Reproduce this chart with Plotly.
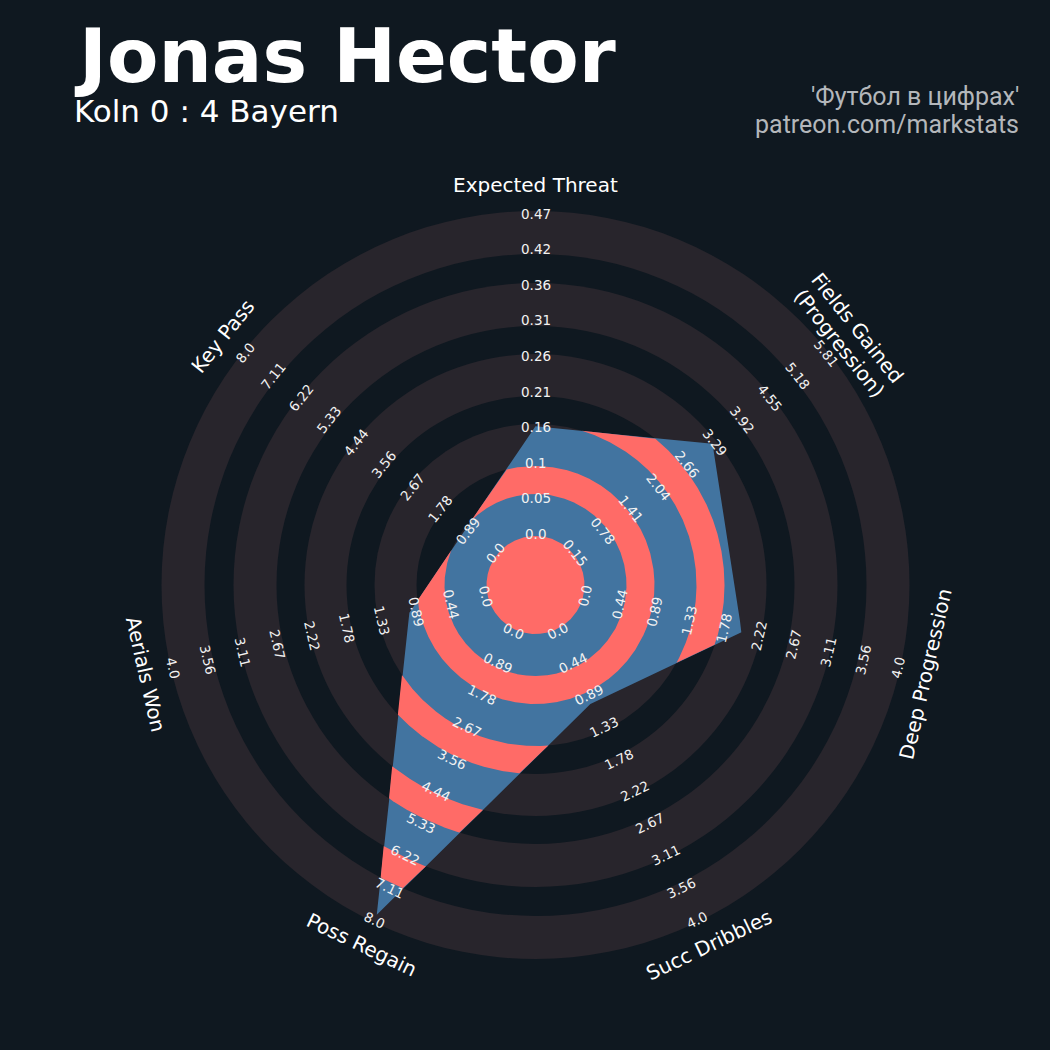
import numpy as np
import plotly.graph_objects as go

# ---------------- data ----------------
params = ["Expected Threat", "Fields Gained<br>(Progression)", "Deep Progression",
          "Succ Dribbles", "Poss Regain", "Aerials Won", "Key Pass"]
values = [0.158, 3.24, 2.0, 1.0, 7.8, 1.0, 1.0]
range_min = [0.0, 0.15, 0.0, 0.0, 0.0, 0.0, 0.0]
range_max = [0.468, 5.81, 4.0, 4.0, 8.0, 4.0, 8.0]

tick_labels = [
    ["0.0", "0.05", "0.1", "0.16", "0.21", "0.26", "0.31", "0.36", "0.42", "0.47"],
    ["0.15", "0.78", "1.41", "2.04", "2.66", "3.29", "3.92", "4.55", "5.18", "5.81"],
    ["0.0", "0.44", "0.89", "1.33", "1.78", "2.22", "2.67", "3.11", "3.56", "4.0"],
    ["0.0", "0.44", "0.89", "1.33", "1.78", "2.22", "2.67", "3.11", "3.56", "4.0"],
    ["0.0", "0.89", "1.78", "2.67", "3.56", "4.44", "5.33", "6.22", "7.11", "8.0"],
    ["0.0", "0.44", "0.89", "1.33", "1.78", "2.22", "2.67", "3.11", "3.56", "4.0"],
    ["0.0", "0.89", "1.78", "2.67", "3.56", "4.44", "5.33", "6.22", "7.11", "8.0"],
]

title = "Jonas Hector"
subtitle = "Koln 0 : 4 Bayern"
credit_1 = "'Футбол в цифрах'"
credit_2 = "patreon.com/markstats"

# ---------------- style / geometry ----------------
BG = "#0f1820"
RING_DARK = "#28252c"
BLUE = "#4274a0"
RED = "#ff6b67"
CX, CY = 535.5, 585.0      # centre in pixels
W = H = 1050
R_CENTER = 49.0
R_OUTER = 374.0
# ring boundaries (outer -> inner), alternating dark / light
ring_bounds = [374, 331, 302, 259, 231, 189, 161, 119, 91, 49]
LABEL_R0, LABEL_STEP = 51.0, 35.6
PARAM_R = 400.0
LINE_GAP = 23.0

n = len(params)
angles = np.deg2rad(90 - np.arange(n) * 360.0 / n)


def to_radius(v, lo, hi):
    return R_CENTER + (v - lo) / (hi - lo) * (R_OUTER - R_CENTER)


fig = go.Figure()

# background rings (layout shapes, concentric filled circles)
shapes = []
for i, R in enumerate(ring_bounds):
    col = RING_DARK if i % 2 == 0 else BG
    shapes.append(dict(type="circle", xref="x", yref="y", x0=-R, y0=-R, x1=R, y1=R,
                       fillcolor=col, line=dict(width=0), layer="below"))

# radar polygon, sampled densely along its edges
vr = np.array([to_radius(v, lo, hi) for v, lo, hi in zip(values, range_min, range_max)])
vx, vy = vr * np.cos(angles), vr * np.sin(angles)
px, py = [], []
for k in range(n):
    j = (k + 1) % n
    t = np.linspace(0, 1, 400, endpoint=False)
    px.extend(vx[k] + (vx[j] - vx[k]) * t)
    py.extend(vy[k] + (vy[j] - vy[k]) * t)
px, py = np.array(px), np.array(py)
pr = np.hypot(px, py)
pphi = np.arctan2(py, px)

# full polygon in blue
fig.add_trace(go.Scatter(x=np.append(px, px[0]), y=np.append(py, py[0]), mode="lines",
                         fill="toself", fillcolor=BLUE, line=dict(width=0, color=BLUE),
                         hoverinfo="skip", showlegend=False))

# red bands = polygon ∩ light annuli, plus the centre disk
red_bands = [(ring_bounds[i + 1] if i + 1 < len(ring_bounds) else 0.0, ring_bounds[i])
             for i in range(1, len(ring_bounds), 2)]
for r_in, r_out in red_bands:
    if r_in <= 0 or np.all(pr > r_in):
        # full disk / full annulus clipped by polygon outer edge
        ro = np.minimum(pr, r_out)
        xo, yo = ro * np.cos(pphi), ro * np.sin(pphi)
        xs, ys = list(np.append(xo, xo[0])), list(np.append(yo, yo[0]))
        if r_in > 0:
            ph = np.linspace(np.pi, -np.pi, 720)
            xs += [None] + list(r_in * np.cos(ph))
            ys += [None] + list(r_in * np.sin(ph))
    else:
        start = int(np.argmax(pr <= r_in))
        rr = np.roll(pr, -start)
        ff = np.roll(pphi, -start)
        outside = rr > r_in
        xs, ys = [], []
        m = len(rr)
        i = 0
        while i < m:
            if outside[i]:
                j = i
                while j < m and outside[j]:
                    j += 1
                seg = slice(max(i - 1, 0), min(j + 1, m))
                phs = ff[seg]
                ro = np.minimum(np.maximum(rr[seg], r_in), r_out)
                xo, yo = ro * np.cos(phs), ro * np.sin(phs)
                ph_back = np.unwrap(phs)[::-1]
                xi, yi = r_in * np.cos(ph_back), r_in * np.sin(ph_back)
                xs += list(xo) + list(xi) + [xo[0], None]
                ys += list(yo) + list(yi) + [yo[0], None]
                i = j
            else:
                i += 1
    fig.add_trace(go.Scatter(x=xs, y=ys, mode="lines", fill="toself", fillcolor=RED,
                             line=dict(width=0, color=RED), hoverinfo="skip",
                             connectgaps=False, showlegend=False))


def tangential_angle(theta_deg):
    rot = theta_deg - 90.0
    rot = (rot + 180.0) % 360.0 - 180.0
    if rot < -90:
        rot += 180
    elif rot > 90:
        rot -= 180
    return -rot  # plotly textangle is clockwise


annotations = []
for k in range(n):
    th = np.rad2deg(angles[k])
    ta = tangential_angle(th)
    ca, sa = np.cos(angles[k]), np.sin(angles[k])
    for i, lab in enumerate(tick_labels[k]):
        r = LABEL_R0 + i * LABEL_STEP
        annotations.append(dict(x=r * ca, y=r * sa, xref="x", yref="y", text=lab,
                                showarrow=False, textangle=ta, xanchor="center",
                                yanchor="middle",
                                font=dict(family="DejaVu Sans", size=13.5, color="#f2f2f2")))
    lines = params[k].split("<br>")
    nl = len(lines)
    # text's "down" direction points toward the centre for labels on the upper half
    sign = 1.0 if np.sin(angles[k]) > -0.2 else -1.0
    for li, line in enumerate(lines):
        off = ((nl - 1) / 2.0 - li) * LINE_GAP * sign
        r = PARAM_R + off
        annotations.append(dict(x=r * ca, y=r * sa, xref="x", yref="y", text=line,
                                showarrow=False, textangle=ta, xanchor="center",
                                yanchor="middle",
                                font=dict(family="DejaVu Sans", size=20, color="#ffffff")))


def pxp(x, y):
    return x / W, 1 - y / H


tx, ty = pxp(72, 56)
annotations.append(dict(x=tx, y=ty, xref="paper", yref="paper", text=title, showarrow=False,
                        xanchor="left", yanchor="middle",
                        font=dict(family="DejaVu Sans", size=75, color="#ffffff", weight=700)))
sx, sy = pxp(72, 111)
annotations.append(dict(x=sx, y=sy, xref="paper", yref="paper", text=subtitle, showarrow=False,
                        xanchor="left", yanchor="middle",
                        font=dict(family="DejaVu Sans", size=31, color="#ffffff")))
c1x, c1y = pxp(1021, 97)
annotations.append(dict(x=c1x, y=c1y, xref="paper", yref="paper", text=credit_1, showarrow=False,
                        xanchor="right", yanchor="middle",
                        font=dict(family="Roboto", size=25, color="#b4b7bb")))
c2x, c2y = pxp(1021, 124)
annotations.append(dict(x=c2x, y=c2y, xref="paper", yref="paper", text=credit_2, showarrow=False,
                        xanchor="right", yanchor="middle",
                        font=dict(family="Roboto", size=25, color="#b4b7bb")))

fig.update_layout(
    width=W, height=H, margin=dict(l=0, r=0, t=0, b=0),
    paper_bgcolor=BG, plot_bgcolor=BG,
    xaxis=dict(range=[-CX, W - CX], visible=False, fixedrange=True),
    yaxis=dict(range=[CY - H, CY], visible=False, fixedrange=True),
    shapes=shapes, annotations=annotations, showlegend=False,
)

fig.write_html("out.html", config={"responsive": False, "displayModeBar": False},
               post_script="document.body.style.margin='0';document.body.style.background='%s';" % BG)
